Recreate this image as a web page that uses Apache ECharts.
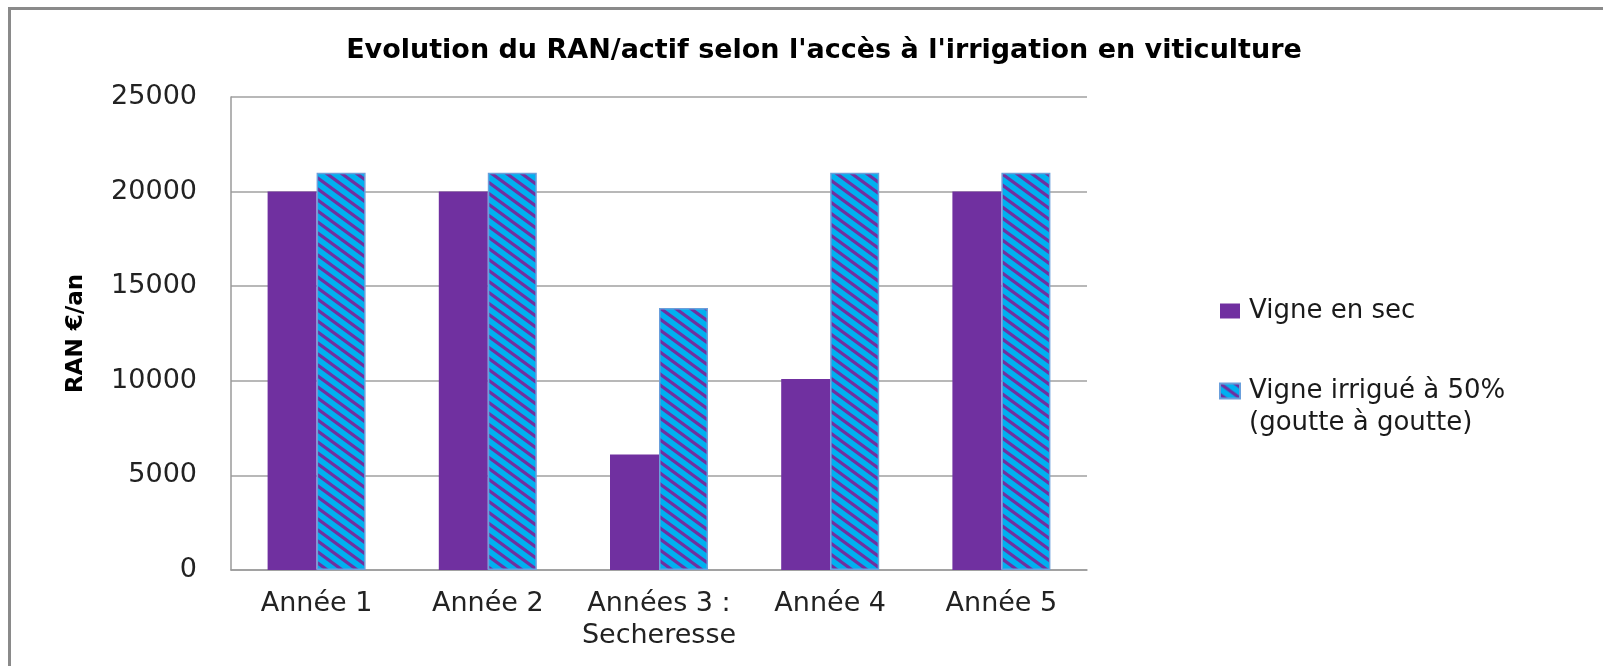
<!DOCTYPE html>
<html>
<head>
<meta charset="utf-8">
<script src="https://cdn.jsdelivr.net/npm/echarts@6/dist/echarts.min.js"></script>
<style>html,body{margin:0;padding:0;background:#fff;}#c{width:1603px;height:666px;}</style>
</head>
<body>
<div id="c"></div>
<script>
const titleText = "Evolution du RAN/actif selon l'accès à l'irrigation en viticulture";
const categories = ["Année 1", "Année 2", "Années 3 :\nSecheresse", "Année 4", "Année 5"];
const seriesNames = ["Vigne en sec", "Vigne irrigué à 50%\n(goutte à goutte)"];
const vigneSec = [20000, 20000, 6100, 10100, 20000];
const vigneIrrigue = [21000, 21000, 13850, 21000, 21000];
const yTicks = { min: 0, max: 25000, interval: 5000 };
const yAxisTitle = "RAN €/an";

// hatch pattern: cyan with purple "\" stripes
function makeHatch() {
  const w = 15, h = 11;
  const cv = document.createElement('canvas');
  cv.width = w; cv.height = h;
  const g = cv.getContext('2d');
  g.fillStyle = '#00B0F0';
  g.fillRect(0, 0, w, h);
  g.strokeStyle = '#7030A0';
  g.lineWidth = 3.2;
  for (let k = -1; k <= 1; k++) {
    g.beginPath();
    g.moveTo(k * w - 3, -3 * h / w);
    g.lineTo(k * w + w + 3, h + 3 * h / w);
    g.stroke();
  }
  return cv;
}
const hatch = makeHatch();

const font = 'DejaVu Sans';
const chart = echarts.init(document.getElementById('c'), null, { renderer: 'canvas' });
chart.setOption({
  animation: false,
  backgroundColor: '#ffffff',
  title: {
    text: titleText,
    left: 819, textAlign: 'center',
    top: 32,
    textStyle: { fontFamily: font, fontWeight: 'bold', fontSize: 27, color: '#000' }
  },
  graphic: [{
    type: 'rect', silent: true, z: -1,
    shape: { x: 9.5, y: 8.5, width: 1700, height: 800 },
    style: { fill: 'none', stroke: '#8a8a8a', lineWidth: 3 }
  }],
  legend: {
    orient: 'vertical',
    left: 1219, top: 295,
    padding: 0,
    itemWidth: 20, itemHeight: 15,
    itemGap: 16,
    icon: 'rect',
    formatter: name => (name.indexOf('\n') >= 0 ? '\n' + name : name),
    textStyle: { fontFamily: font, fontSize: 26, color: '#1a1a1a', lineHeight: 32, padding: [0, 0, 0, 4] },
    data: seriesNames
  },
  grid: { left: 231, top: 97, width: 856, height: 473, containLabel: false },
  xAxis: {
    type: 'category',
    data: categories,
    axisLine: { lineStyle: { color: '#9a9a9a', width: 1.5 } },
    axisTick: { show: false },
    axisLabel: { fontFamily: font, fontSize: 27, color: '#222', margin: 18, lineHeight: 32, interval: 0 }
  },
  yAxis: {
    type: 'value',
    min: yTicks.min, max: yTicks.max, interval: yTicks.interval,
    name: yAxisTitle,
    nameLocation: 'middle',
    nameRotate: 90,
    nameGap: 143,
    nameTextStyle: { fontFamily: font, fontWeight: 'bold', fontSize: 23, color: '#000' },
    axisLine: { show: true, lineStyle: { color: '#9a9a9a', width: 1.5 } },
    axisTick: { show: false },
    splitLine: { lineStyle: { color: '#a0a0a0', width: 1.5 } },
    axisLabel: { fontFamily: font, fontSize: 27, color: '#222', margin: 34, formatter: v => String(v) }
  },
  series: [
    {
      name: seriesNames[0], type: 'bar', data: vigneSec,
      barWidth: 49, barGap: '0%',
      itemStyle: { color: '#7030A0' }
    },
    {
      name: seriesNames[1], type: 'bar', data: vigneIrrigue,
      barWidth: 49, barGap: '0%',
      itemStyle: { color: { image: hatch, repeat: 'repeat' }, borderColor: '#6a9fdc', borderWidth: 1.5 }
    }
  ]
});
</script>
</body>
</html>
